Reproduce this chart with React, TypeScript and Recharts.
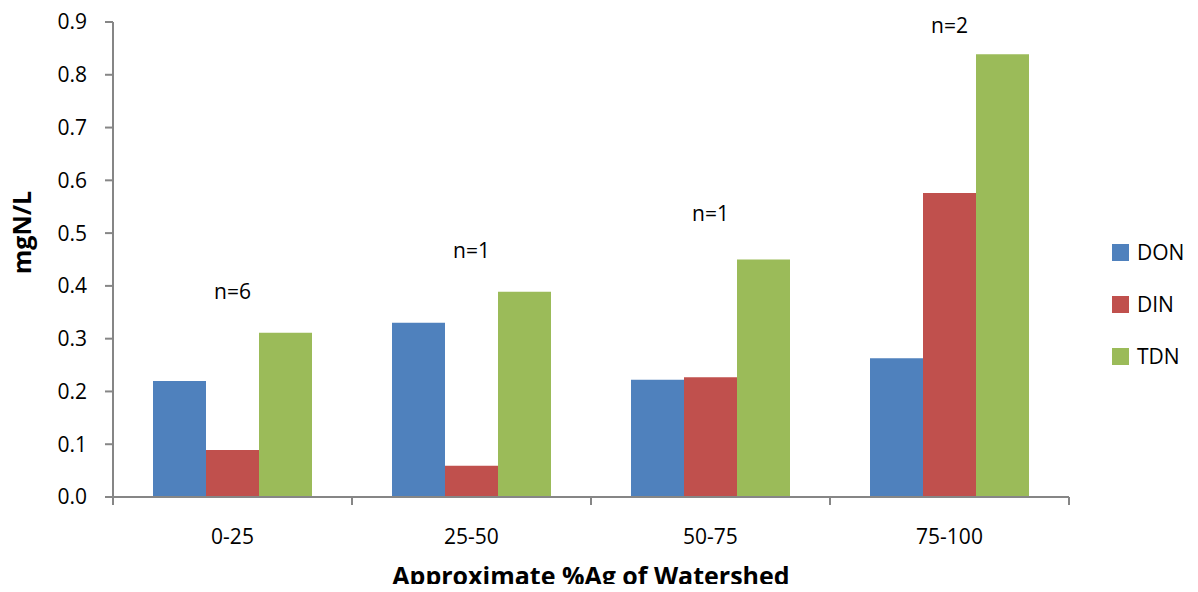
import { BarChart, Bar, Line, XAxis, YAxis, LabelList } from 'recharts';

const categories = ['0-25', '25-50', '50-75', '75-100'];
const don = [0.22, 0.33, 0.222, 0.263];
const din = [0.089, 0.059, 0.227, 0.576];
const tdn = [0.311, 0.389, 0.45, 0.839];
const nCounts = ['n=6', 'n=1', 'n=1', 'n=2'];
const nLabelY = [0.39, 0.467, 0.537, 0.893];
const yTicks = [0, 0.1, 0.2, 0.3, 0.4, 0.5, 0.6, 0.7, 0.8, 0.9];

const data = categories.map((name, i) => ({
  name,
  idx: i,
  DON: don[i],
  DIN: din[i],
  TDN: tdn[i],
  nY: nLabelY[i],
  nText: nCounts[i],
}));

const FONT = '"Open Sans", sans-serif';
const AXIS = '#868686';

const seriesColors = [
  { key: 'DON', color: '#4F81BD' },
  { key: 'DIN', color: '#C0504D' },
  { key: 'TDN', color: '#9BBB59' },
];

// legend drawn as plain html so the plot area keeps its width
function LegendBox() {
  return (
    <div style={{ position: 'absolute', left: 1112, top: 226, fontFamily: FONT, fontSize: 21, color: '#000' }}>
      {seriesColors.map((s) => (
        <div key={s.key} style={{ display: 'flex', alignItems: 'center', height: 52 }}>
          <div style={{ width: 17, height: 17, background: s.color, marginRight: 8 }} />
          <span>{s.key}</span>
        </div>
      ))}
    </div>
  );
}

export default function App() {
  return (
    <div style={{ position: 'relative', margin: -8, width: 1198, height: 592, background: '#fff', fontFamily: FONT }}>
      <BarChart
        width={1198}
        height={592}
        data={data}
        margin={{ top: 22, right: 129, left: 0, bottom: 0 }}
        barCategoryGap={40}
        barGap={0}
      >
        <XAxis
          xAxisId="b"
          dataKey="name"
          height={87}
          axisLine={false}
          tickLine={false}
          tickMargin={18}
          tick={{ fill: '#000', fontSize: 21, fontFamily: FONT }}
          label={{
            value: 'Approximate %Ag of Watershed',
            position: 'insideBottom',
            offset: 7,
            fill: '#000',
            fontSize: 25,
            fontWeight: 'bold',
            fontFamily: FONT,
          }}
        />
        {/* category boundary ticks, like the excel original */}
        <XAxis
          xAxisId="a"
          type="number"
          dataKey="idx"
          domain={[0, 4]}
          ticks={[0, 1, 2, 3, 4]}
          interval={0}
          tickFormatter={() => ''}
          height={8}
          tickSize={8}
          axisLine={{ stroke: AXIS, strokeWidth: 2 }}
          tickLine={{ stroke: AXIS, strokeWidth: 2 }}
        />
        <YAxis
          width={113}
          domain={[0, 0.9]}
          ticks={yTicks}
          interval={0}
          tickFormatter={(v: number) => v.toFixed(1)}
          tickSize={8}
          tickMargin={18}
          axisLine={{ stroke: AXIS, strokeWidth: 2 }}
          tickLine={{ stroke: AXIS, strokeWidth: 2 }}
          tick={{ fill: '#000', fontSize: 21, fontFamily: FONT }}
          label={{
            value: 'mgN/L',
            angle: -90,
            position: 'insideLeft',
            offset: 22,
            dy: -27,
            fill: '#000',
            fontSize: 25,
            fontWeight: 'bold',
            fontFamily: FONT,
            textAnchor: 'middle',
          }}
        />
        {seriesColors.map((s) => (
          <Bar key={s.key} xAxisId="b" dataKey={s.key} fill={s.color} isAnimationActive={false} />
        ))}
        <Line
          xAxisId="b"
          dataKey="nY"
          stroke="none"
          dot={false}
          activeDot={false}
          legendType="none"
          isAnimationActive={false}
        >
          <LabelList dataKey="nText" position="center" fill="#000" fontSize={21} fontFamily={FONT} />
        </Line>
      </BarChart>
      <LegendBox />
    </div>
  );
}
